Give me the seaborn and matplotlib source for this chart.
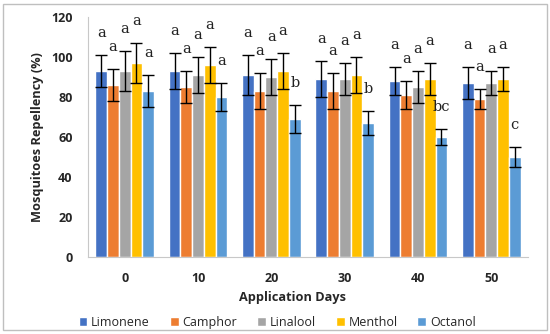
import pandas as pd
import matplotlib.pyplot as plt
import seaborn as sns
from matplotlib.patches import Rectangle

# Data
days = ['0', '10', '20', '30', '40', '50']
oils = ['Limonene', 'Camphor', 'Linalool', 'Menthol', 'Octanol']
limonene = [93, 93, 91, 89, 88, 87]
camphor = [86, 85, 83, 83, 81, 79]
linalool = [93, 91, 90, 89, 85, 87]
menthol = [97, 96, 93, 91, 89, 89]
octanol = [83, 80, 69, 67, 60, 50]
limonene_err = [8, 9, 10, 9, 7, 8]
camphor_err = [8, 8, 9, 9, 7, 5]
linalool_err = [10, 9, 9, 8, 8, 6]
menthol_err = [10, 9, 9, 9, 8, 6]
octanol_err = [8, 7, 7, 6, 4, 5]
letters = {
    'Limonene': ['a', 'a', 'a', 'a', 'a', 'a'],
    'Camphor': ['a', 'a', 'a', 'a', 'a', 'a'],
    'Linalool': ['a', 'a', 'a', 'a', 'a', 'a'],
    'Menthol': ['a', 'a', 'a', 'a', 'a', 'a'],
    'Octanol': ['a', 'a', 'b', 'b', 'bc', 'c'],
}
colors = ['#4472C4', '#ED7D31', '#A5A5A5', '#FFC000', '#5B9BD5']

values = [limonene, camphor, linalool, menthol, octanol]
errors = [limonene_err, camphor_err, linalool_err, menthol_err, octanol_err]

rows = []
for oil, vals in zip(oils, values):
    for d, v in zip(days, vals):
        rows.append({'day': d, 'oil': oil, 'value': v})
df = pd.DataFrame(rows)

sns.set_style('white')
plt.rcParams['font.family'] = ['Open Sans', 'DejaVu Sans']

fig = plt.figure(figsize=(5.5, 3.34), dpi=100)
ax = fig.add_axes([0.16, 0.23, 0.80, 0.72])

sns.barplot(data=df, x='day', y='value', hue='oil', order=days, hue_order=oils,
            palette=colors, errorbar=None, width=0.8, saturation=1, ax=ax)

# error bars and significance letters
for cont, oil, errs in zip(ax.containers, oils, errors):
    for bar, e, lab in zip(cont, errs, letters[oil]):
        xc = bar.get_x() + bar.get_width() / 2
        h = bar.get_height()
        ax.errorbar(xc, h, yerr=e, color='black', capsize=4, lw=1, capthick=1)
        ax.text(xc, h + e + 11, lab, ha='center', va='center',
                fontsize=10.5, family='DejaVu Serif', color='#222222')

ax.set_ylim(0, 120)
ax.set_yticks(range(0, 121, 20))
ax.set_xlim(-0.5, 5.5)
ax.tick_params(axis='y', labelsize=9, length=0, pad=11)
ax.tick_params(axis='x', labelsize=9, length=0, pad=11)
for t in ax.get_xticklabels() + ax.get_yticklabels():
    t.set_fontweight('bold')
ax.set_xlabel('Application Days', fontsize=9.2, fontweight='bold')
ax.xaxis.set_label_coords(0.465, -0.14)
ax.set_ylabel('Mosquitoes Repellency (%)', fontsize=9.2, fontweight='bold', labelpad=5)
for s in ['top', 'right']:
    ax.spines[s].set_visible(False)
for s in ['left', 'bottom']:
    ax.spines[s].set_color('#C8C8C8')
    ax.spines[s].set_linewidth(0.8)

ax.legend(loc='center', bbox_to_anchor=(0.43, -0.27), ncol=5, frameon=False,
          fontsize=9, handlelength=0.7, handleheight=0.7, handletextpad=0.3,
          columnspacing=1.6, borderaxespad=0)

fig.patches.append(Rectangle((0.005, 0.012), 0.99, 0.975, transform=fig.transFigure,
                             fill=False, edgecolor='#BFBFBF', lw=1))

fig.savefig('out.png', dpi=100)
